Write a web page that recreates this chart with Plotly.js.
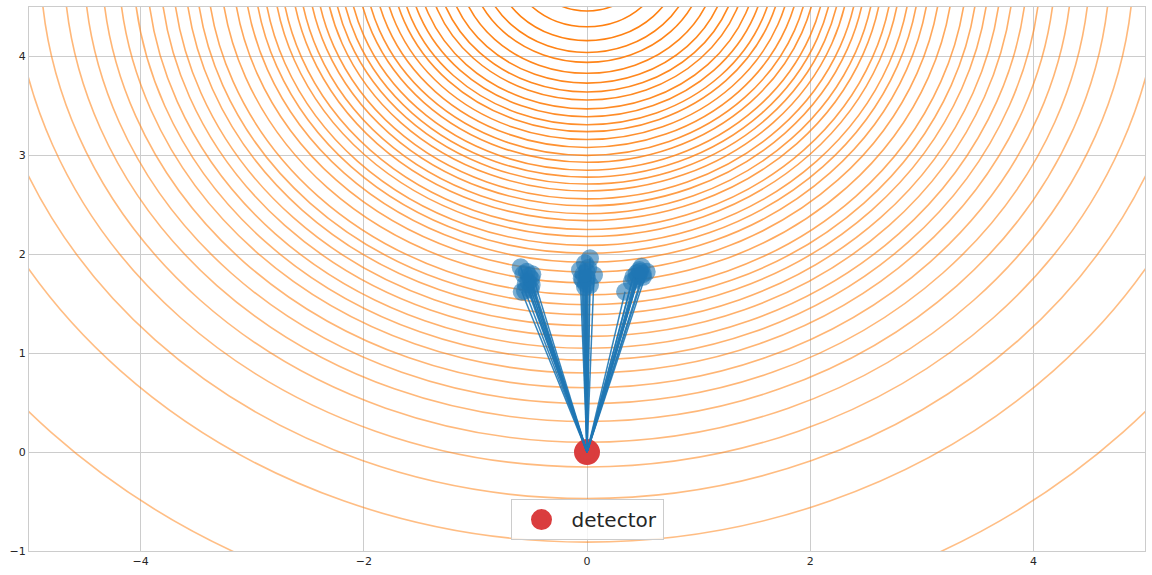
<!DOCTYPE html>
<html>
<head>
<meta charset="utf-8">
<script src="https://cdn.plot.ly/plotly-3.0.1.min.js"></script>
<style>
  html, body { margin: 0; padding: 0; background: #fff; }
  #plot { width: 1152px; height: 575px; }
</style>
</head>
<body>
<div id="plot"></div>
<script>
// contour rings around the source, radii (x = 0 column)
const sourceX = 0;
const sourceY = 5;
const ringRadii = [0.54, 0.70, 0.84, 0.96, 1.06, 1.17, 1.27, 1.36, 1.44, 1.53, 1.61, 1.69,
  1.76, 1.84, 1.92, 2.00, 2.07, 2.15, 2.22, 2.29, 2.36, 2.44, 2.51, 2.59, 2.66, 2.75,
  2.82, 2.91, 2.99, 3.08, 3.18, 3.29, 3.41, 3.51, 3.61, 3.72, 3.83, 3.95, 4.07, 4.20,
  4.35, 4.51, 4.69, 4.90, 5.15, 5.47, 5.91, 6.79];

// sampled source positions
const leftX = [-0.594, -0.540, -0.490, -0.526, -0.496, -0.585, -0.556, -0.504,
  -0.52, -0.55, -0.50, -0.57];
const leftY = [1.868, 1.823, 1.797, 1.722, 1.689, 1.621, 1.631, 1.645,
  1.78, 1.70, 1.75, 1.80];
const midX = [0.027, -0.018, -0.063, -0.003, 0.063, -0.047, 0.027, -0.018, -0.036,
  0.00, -0.01, 0.01, -0.03];
const midY = [1.959, 1.908, 1.840, 1.823, 1.790, 1.756, 1.689, 1.671, 1.739,
  1.76, 1.70, 1.86, 1.80];
const rightX = [0.490, 0.535, 0.445, 0.415, 0.502, 0.401, 0.341, 0.475,
  0.46, 0.44, 0.50, 0.47];
const rightY = [1.874, 1.823, 1.807, 1.772, 1.772, 1.722, 1.621, 1.823,
  1.78, 1.75, 1.80, 1.84];

const detectorX = [0];
const detectorY = [0];

const sampX = leftX.concat(midX, rightX);
const sampY = leftY.concat(midY, rightY);

// rays from the detector to each sample
const rayX = [];
const rayY = [];
sampX.forEach((x, i) => {
  rayX.push(detectorX[0], x, null);
  rayY.push(detectorY[0], sampY[i], null);
});

const shapes = ringRadii.map((r, i) => ({
  type: 'circle',
  xref: 'x', yref: 'y',
  x0: sourceX - r, x1: sourceX + r,
  y0: sourceY - r, y1: sourceY + r,
  layer: 'between',
  line: {color: '#ff7f0e', width: 1.6},
  opacity: 0.5 + 0.5 * (1 - i / (ringRadii.length - 1))
}));

const detector = {
  x: detectorX, y: detectorY,
  name: 'detector',
  mode: 'markers',
  type: 'scatter',
  marker: {color: 'rgb(218,61,62)', size: 21, line: {color: 'rgb(218,61,62)', width: 5}},
  cliponaxis: false
};

const rays = {
  x: rayX, y: rayY,
  mode: 'lines',
  type: 'scatter',
  showlegend: false,
  hoverinfo: 'skip',
  line: {color: 'rgba(31,119,180,0.9)', width: 1.5}
};

const samples = {
  x: sampX, y: sampY,
  mode: 'markers',
  type: 'scatter',
  showlegend: false,
  marker: {color: 'rgba(31,119,180,0.6)', size: 18}
};

const axisStyle = {
  showgrid: true,
  gridcolor: '#cccccc',
  gridwidth: 1,
  zeroline: false,
  showline: true,
  linecolor: '#cccccc',
  linewidth: 1,
  mirror: true,
  ticks: '',
  tickfont: {family: 'DejaVu Sans', size: 11, color: '#262626'}
};

const layout = {
  width: 1152,
  height: 575,
  margin: {l: 29, r: 7, t: 7, b: 24},
  paper_bgcolor: 'white',
  plot_bgcolor: 'white',
  font: {family: 'DejaVu Sans', color: '#262626'},
  xaxis: Object.assign({}, axisStyle, {range: [-5, 5], dtick: 2, tick0: 0}),
  yaxis: Object.assign({}, axisStyle, {range: [-1, 4.5], dtick: 1, tick0: 0}),
  shapes: shapes,
  showlegend: true,
  legend: {
    x: 0.5, xanchor: 'center',
    y: 0.02, yanchor: 'bottom',
    bgcolor: 'rgba(255,255,255,0.8)',
    bordercolor: '#cccccc',
    borderwidth: 1,
    font: {family: 'DejaVu Sans', size: 20, color: '#262626'},
    itemsizing: 'trace',
    itemwidth: 50
  }
};

Plotly.newPlot('plot', [detector, rays, samples], layout, {displayModeBar: false, staticPlot: true});
</script>
</body>
</html>
